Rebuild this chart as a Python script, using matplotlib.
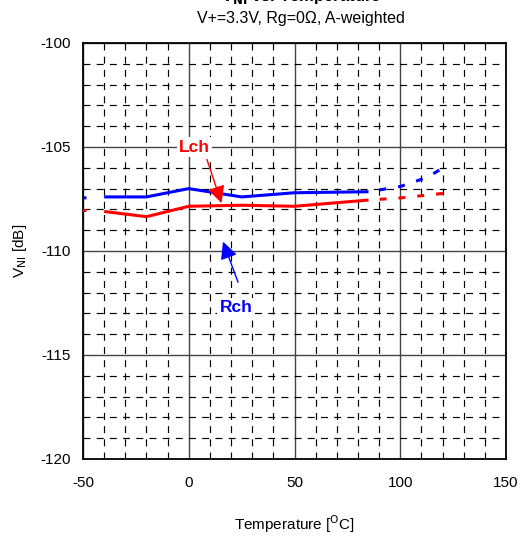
import matplotlib

matplotlib.use("Agg")
import matplotlib.pyplot as plt
from matplotlib.ticker import MultipleLocator

plt.rcParams.update(
    {
        "font.family": "sans-serif",
        "font.sans-serif": ["Liberation Sans", "Arial", "DejaVu Sans"],
        "lines.scale_dashes": False,
        "axes.unicode_minus": False,
    }
)

# measured range (solid)
temps = [-40, -20, 0, 25, 50, 85]
rch = [-107.4, -107.4, -107.0, -107.4, -107.2, -107.15]
lch = [-108.1, -108.35, -107.85, -107.8, -107.85, -107.55]

# extrapolated ends (dashed)
temps_lo = [-50, -40]
rch_lo = [-107.45, -107.4]
lch_lo = [-108.05, -108.1]
temps_hi_r = [85, 100, 113, 121]
rch_hi = [-107.15, -106.9, -106.45, -105.95]
temps_hi_l = [85, 100, 114, 123]
lch_hi = [-107.55, -107.45, -107.3, -107.2]

x_ticks = [-50, 0, 50, 100, 150]
y_ticks = [-120, -115, -110, -105, -100]

BLUE = "#0000ff"
RED = "#ff0000"

fig = plt.figure(figsize=(5.2, 5.36), dpi=100)
ax = fig.add_axes([83 / 520, 1 - 459 / 536, 423 / 520, 416 / 536])

ax.set_xlim(-50, 150)
ax.set_ylim(-120, -100)
ax.set_xticks(x_ticks)
ax.set_yticks(y_ticks)
ax.xaxis.set_minor_locator(MultipleLocator(10))
ax.yaxis.set_minor_locator(MultipleLocator(1))
ax.grid(which="major", color="#444444", linewidth=1.0, linestyle="-")
ax.grid(which="minor", color="black", linewidth=0.85, linestyle=(0, (5, 4.5)))
ax.set_axisbelow(True)
ax.tick_params(which="both", length=0)
ax.tick_params(axis="x", labelsize=11, pad=12)
ax.tick_params(axis="y", labelsize=11, pad=9)
for sp in ax.spines.values():
    sp.set_linewidth(1.3)

dash = (5.6, (5.0, 8.6))
ax.plot(temps, rch, color=BLUE, linewidth=2.2, solid_capstyle="butt", zorder=3)
ax.plot(temps, lch, color=RED, linewidth=2.2, solid_capstyle="butt", zorder=3)
ax.plot(temps_lo, rch_lo, color=BLUE, linewidth=2.2, linestyle=(0, (2.5, 20)), zorder=3)
ax.plot(temps_lo, lch_lo, color=RED, linewidth=2.2, linestyle=(0, (2.5, 20)), zorder=3)
ax.plot(temps_hi_r, rch_hi, color=BLUE, linewidth=2.2, linestyle=dash, zorder=3)
ax.plot(temps_hi_l, lch_hi, color=RED, linewidth=2.2, linestyle=dash, zorder=3)

ax.annotate(
    "",
    xy=(15.5, -107.7),
    xytext=(8.6, -105.6),
    arrowprops=dict(arrowstyle="-|>", color=RED, lw=1.0, mutation_scale=26, shrinkA=0, shrinkB=0),
    zorder=4,
)
ax.text(2.7, -105.0, "Lch", color=RED, fontsize=12.5, fontweight="bold", ha="center", va="center",
        bbox=dict(facecolor="white", edgecolor="none", pad=1.5), zorder=4)

ax.annotate(
    "",
    xy=(16.2, -109.55),
    xytext=(23.3, -111.5),
    arrowprops=dict(arrowstyle="-|>", color=BLUE, lw=1.0, mutation_scale=26, shrinkA=0, shrinkB=0),
    zorder=4,
)
ax.text(22.3, -112.7, "Rch", color=BLUE, fontsize=12.5, fontweight="bold", ha="center", va="center",
        bbox=dict(facecolor="white", edgecolor="none", pad=1.5), zorder=4)

ax.set_xlabel("Temperature [$^{\\rm O}$C]", fontsize=11, labelpad=17)
ax.set_ylabel("V$_{\\rm NI}$ [dB]", fontsize=11, labelpad=8)

# title sits mostly above the top edge, as in the reference
fig.text(301 / 520, 1 - 1.0 / 536, "V$_{\\bf NI}$ vs. Temperature", ha="center", va="baseline",
         fontsize=12, fontweight="bold")
fig.text(301 / 520, 1 - 18 / 536, "V+=3.3V, Rg=0Ω, A-weighted", ha="center", va="center", fontsize=11.5)

fig.savefig("out.png", dpi=100)
